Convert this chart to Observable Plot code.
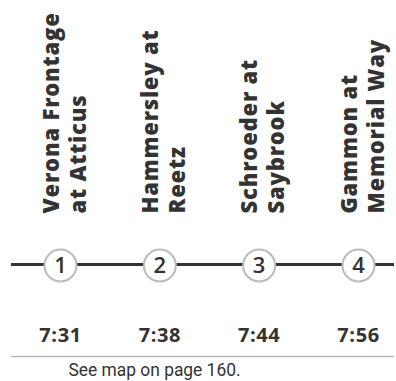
<!DOCTYPE html>
<html>
<head>
<meta charset="utf-8">
<script src="https://cdn.jsdelivr.net/npm/d3@7"></script>
<script src="https://cdn.jsdelivr.net/npm/@observablehq/plot@0.6"></script>
<style>
  html, body { margin: 0; padding: 0; background: #fff; }
  #chart svg { display: block; }
  #chart .names { letter-spacing: 0.8px; }
  #chart .times { letter-spacing: 0.6px; }
</style>
</head>
<body>
<div id="chart"></div>
<script>
const stops = [1, 2, 3, 4];
const stopNames = [
  "Verona Frontage\nat Atticus",
  "Hammersley at\nReetz",
  "Schroeder at\nSaybrook",
  "Gammon at\nMemorial Way"
];
const stopTimes = ["7:31", "7:38", "7:44", "7:56"];
const caption = "See map on page 160.";

const data = stops.map((s, i) => ({stop: s, name: stopNames[i], time: stopTimes[i]}));

// layout rows (pixels)
const nameBaseY = 213, lineY = 264, timeY = 335, ruleYpos = 356, captionY = 370;

const chart = Plot.plot({
  width: 396,
  height: 381,
  marginTop: 0, marginBottom: 0, marginLeft: 11, marginRight: 2,
  x: {domain: [1, 4], range: [60, 358], axis: null},
  y: {type: "identity", axis: null},
  style: {background: "white"},
  marks: [
    Plot.text(data, {
      x: "stop", y: () => nameBaseY, text: "name", rotate: -90,
      textAnchor: "start", lineAnchor: "middle", lineHeight: 1.22,
      fontSize: 22, fontWeight: 800, fill: "#333", dx: 3,
      fontFamily: "Open Sans", className: "names"
    }),
    Plot.ruleY([lineY], {stroke: "#333", strokeWidth: 3}),
    Plot.dot(data, {x: "stop", y: () => lineY + 1, r: 16, fill: "white", stroke: "#bbb", strokeWidth: 2}),
    Plot.text(data, {x: "stop", y: () => lineY + 1, text: "stop", fontSize: 22, fill: "#333", fontFamily: "Open Sans", fontWeight: 600}),
    Plot.text(data, {x: "stop", y: () => timeY, text: "time", fontSize: 20, fontWeight: 700, fill: "#333", fontFamily: "Open Sans", className: "times"}),
    Plot.ruleY([ruleYpos], {stroke: "#bbb", strokeWidth: 1.5}),
    Plot.text([caption], {
      frameAnchor: "left", y: () => captionY, text: d => d, textAnchor: "start", dx: 57,
      fontSize: 18, fill: "#333", fontFamily: "Roboto", className: "caption"
    })
  ]
});
// condense caption to match narrow typeface
chart.querySelectorAll(".caption text").forEach(t => {
  t.setAttribute("textLength", "172");
  t.setAttribute("lengthAdjust", "spacingAndGlyphs");
});
document.getElementById("chart").appendChild(chart);
</script>
</body>
</html>
